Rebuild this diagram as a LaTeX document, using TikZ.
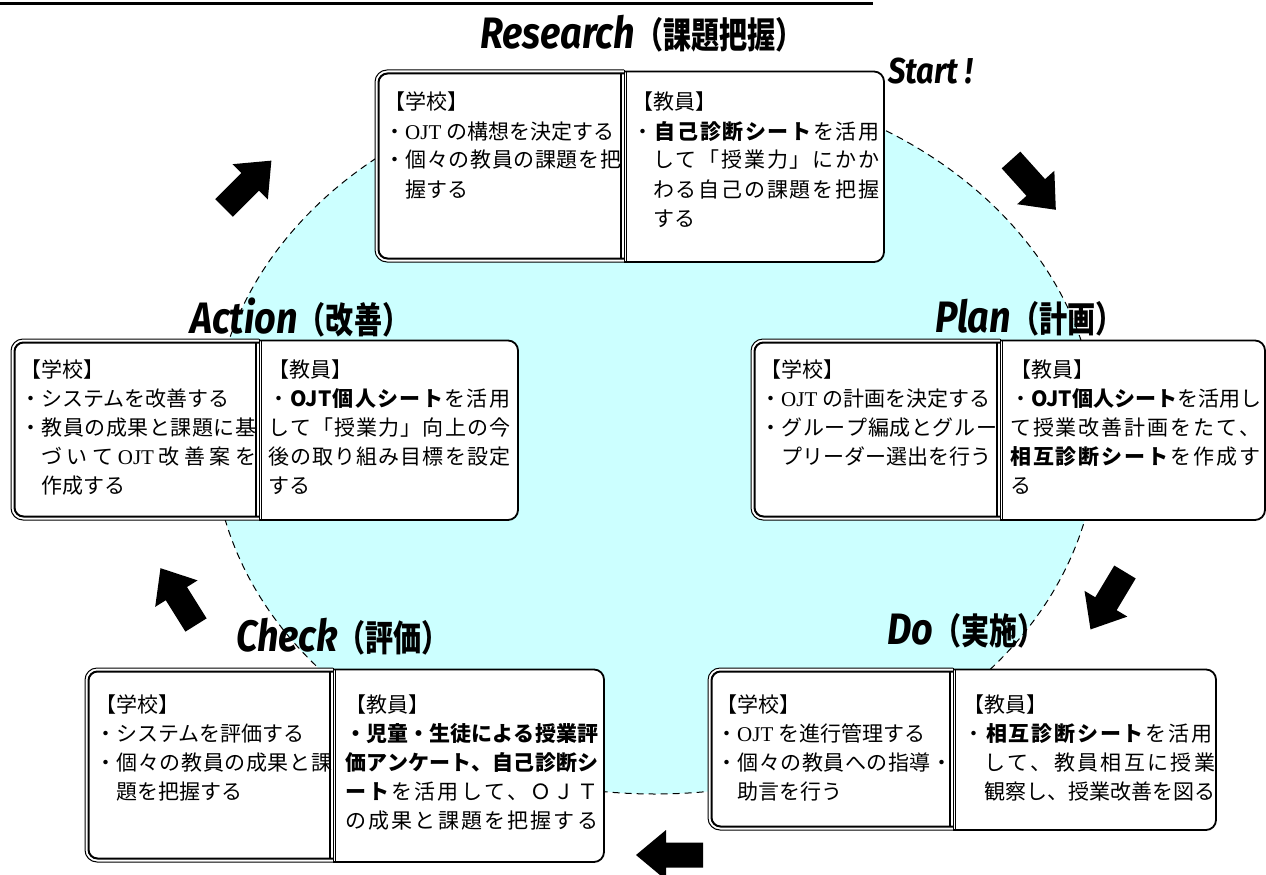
\documentclass[tikz,border=0pt]{standalone}
\usepackage{fontspec}
\setmainfont{Noto Sans CJK JP}
\newfontfamily\latserif{Liberation Serif}
\newfontfamily\popLfont{Fira Sans}[FakeStretch=0.86]
\newfontfamily\popJfont{Noto Sans CJK JP}[FakeStretch=0.78]
\definecolor{cyc}{HTML}{CCFFFF}
\newcommand\TL[1]{{\popLfont\bfseries\itshape\fontsize{44}{44}\selectfont #1}}
\newcommand\TJ[1]{{\popJfont\bfseries\fontsize{36}{36}\selectfont #1}}
\newcommand\oj{{\latserif OJT}}
\def\Sz{}
\def\Sy#1{\ifx\Sz#1\else\hfil#1\expandafter\Sy\fi}
\newcommand\T[1]{\Sy#1\Sz}
\newcommand\Jl[2]{\hbox to #1pt{\hskip0pt plus -1fil\relax #2}}
\newcommand\pdca[5]{%
  \begin{scope}
    \clip (#3,#2-5) rectangle (#4+5,#5+5);
    \draw[line width=1.8,fill=white,rounded corners=10pt] (#3-20,#2+1.5) rectangle (#4,#5);
  \end{scope}
  \draw[line width=1.8] (#3+2.5,#2+1.5) -- (#3+2.5,#5);
  \begin{scope}
    \clip (#1-5,#2-5) rectangle (#3,#5+5);
    \draw[line width=1,fill=white,rounded corners=12pt] (#1,#2) rectangle (#3+20,#5);
    \draw[line width=2,rounded corners=9pt] (#1+3.5,#2+3.5) rectangle (#3+20,#5-3.5);
  \end{scope}
  \draw[line width=1] (#3,#2) -- (#3,#5);
  \draw[line width=2] (#3-3.5,#2+3.5) -- (#3-3.5,#5-3.5);
}
\newcommand\blockarrow[3]{%
  \fill[black,shift={(#1,#2)},rotate=#3] (0,-12.5) -- (37,-12.5) -- (37,-25) -- (67,0) -- (37,25) -- (37,12.5) -- (0,12.5) -- cycle;
}
\tikzset{
  body/.style={anchor=base west,inner sep=0pt,font=\fontsize{21}{29}\selectfont},
  ttl/.style={anchor=west,inner sep=0pt}
}
\begin{document}
\begin{tikzpicture}[x=1pt,y=-1pt]
\useasboundingbox (0,0) rectangle (1266,875);
\fill[white] (0,0) rectangle (1266,875);
% header rule
\draw[line width=3] (0,4) -- (873,4);
% cycle ellipse
\draw[fill=cyc,line width=1,dash pattern=on 7pt off 5pt] (655,436) ellipse [x radius=442pt,y radius=358pt];
% arrows
\blockarrow{224}{208}{45}
\blockarrow{1011}{160}{-48}
\blockarrow{1125}{572}{-121}
\blockarrow{703}{855}{180}
\blockarrow{196}{625}{122}
% boxes
\pdca{375}{70}{624}{884}{262}
\pdca{11}{339}{259}{518}{520}
\pdca{751}{339}{1000}{1265}{520}
\pdca{85}{668}{333}{604}{862}
\pdca{708}{668}{953}{1216}{830}
% titles
\node[ttl] (tR) at (480,34) {\TL{Research}\TJ{（課題把握）}};
\node[ttl] (tS) at (888,71) {{\popLfont\bfseries\itshape\fontsize{36}{36}\selectfont Start !}};
\node[ttl] (tP) at (935,318) {\TL{Plan}\TJ{（計画）}};
\node[ttl] (tA) at (190,318) {\TL{Action}\TJ{（改善）}};
\node[ttl] (tC) at (236,637) {\TL{Check}\TJ{（評価）}};
\node[ttl] (tD) at (887,631) {\TL{Do}\TJ{（実施）}};
% Research
\node[body] (rL) at (384,110) {\vtop{%
\hbox{【学校】}
\hbox{・\oj\ の構想を決定する}
\Jl{237}{\T{・個々の教員の課題を把}}
\hbox{\hskip21pt 握する}}};
\node[body] (rR) at (632,110) {\vtop{%
\hbox{【教員】}
\Jl{247}{\T{・}{\bfseries\T{自己診断シート}}\T{を活用}}
\hbox{\hskip21pt\Jl{226}{\T{して「授業力」にかか}}}
\hbox{\hskip21pt\Jl{226}{\T{わる自己の課題を把握}}}
\hbox{\hskip21pt する}}};
% Action
\node[body] (aL) at (20,377) {\vtop{%
\hbox{【学校】}
\hbox{・システムを改善する}
\Jl{236}{\T{・教員の成果と課題に基}}
\hbox{\hskip21pt\Jl{215}{\T{づいて}\hfil\oj\T{改善案を}}}
\hbox{\hskip21pt 作成する}}};
\node[body] (aR) at (268,377) {\vtop{%
\hbox{【教員】}
\Jl{242}{\T{・}{\bfseries\hfil OJT\T{個人シート}}\T{を活用}}
\Jl{242}{\T{して「授業力」向上の今}}
\Jl{242}{\T{後の取り組み目標を設定}}
\hbox{する}}};
% Plan
\node[body] (pL) at (760,377) {\vtop{%
\hbox{【学校】}
\hbox{・\oj\ の計画を決定する}
\Jl{237}{\T{・グループ編成とグルー}}
\hbox{\hskip21pt プリーダー選出を行う}}};
\node[body] (pR) at (1010,377) {\vtop{%
\hbox{【教員】}
\Jl{250}{\T{・}{\bfseries\hfil OJT\T{個人シート}}\T{を活用し}}
\Jl{250}{\T{て授業改善計画をたて、}}
\Jl{250}{{\bfseries\T{相互診断シート}}\T{を作成す}}
\hbox{る}}};
% Check
\node[body] (cL) at (95,712) {\vtop{%
\hbox{【学校】}
\hbox{・システムを評価する}
\Jl{237}{\T{・個々の教員の成果と課}}
\hbox{\hskip21pt 題を把握する}}};
\node[body] (cR) at (345,712) {\vtop{%
\hbox{【教員】}
\Jl{253}{{\bfseries\T{・児童・生徒による授業評}}}
\Jl{253}{{\bfseries\T{価アンケート、自己診断シ}}}
\Jl{253}{{\bfseries\T{ート}}\T{を活用して、ＯＪＴ}}
\Jl{253}{\T{の成果と課題を把握する}}}};
% Do
\node[body] (dL) at (716,712) {\vtop{%
\hbox{【学校】}
\hbox{・\oj\ を進行管理する}
\Jl{236}{\T{・個々の教員への指導・}}
\hbox{\hskip21pt 助言を行う}}};
\node[body] (dR) at (963,712) {\vtop{%
\hbox{【教員】}
\Jl{249}{\T{・}{\bfseries\T{相互診断シート}}\T{を活用}}
\hbox{\hskip21pt\Jl{231}{\T{して、教員相互に授業}}}
\hbox{\hskip21pt\Jl{231}{\T{観察し、授業改善を図る}}}}};
\end{tikzpicture}
\end{document}
